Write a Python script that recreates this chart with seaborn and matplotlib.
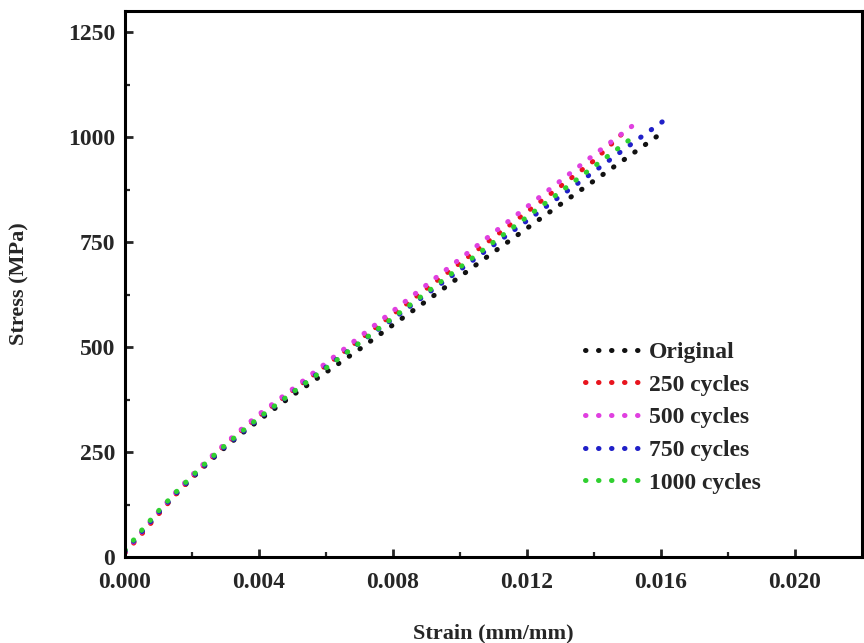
import numpy as np
import pandas as pd
import matplotlib
matplotlib.use("Agg")
import matplotlib.pyplot as plt
import seaborn as sns

# strain / stress curves
strain_original = [0.0, 0.0005, 0.001, 0.0015, 0.002, 0.0025, 0.003, 0.0035, 0.004, 0.005, 0.006,
                   0.007, 0.008, 0.009, 0.010, 0.011, 0.012, 0.013, 0.014, 0.015, 0.0159]
stress_original = [12, 58, 104, 148, 188, 226, 262, 295, 326, 385, 440,
                   495, 553, 610, 668, 726, 783, 840, 896, 952, 1003]

strain_250 = [0.0, 0.0005, 0.001, 0.0015, 0.002, 0.0025, 0.003, 0.0035, 0.004, 0.005, 0.006,
              0.007, 0.008, 0.009, 0.010, 0.011, 0.012, 0.013, 0.014, 0.0150]
stress_250 = [10, 55, 102, 148, 190, 230, 268, 303, 335, 396, 456,
              517, 578, 639, 700, 761, 822, 883, 944, 1020]

strain_500 = [0.0, 0.0005, 0.001, 0.0015, 0.002, 0.0025, 0.003, 0.0035, 0.004, 0.005, 0.006,
              0.007, 0.008, 0.009, 0.010, 0.011, 0.012, 0.013, 0.014, 0.0152]
stress_500 = [12, 60, 108, 153, 195, 234, 271, 306, 340, 400, 462,
              524, 586, 648, 710, 772, 834, 896, 958, 1030]

strain_750 = [0.0, 0.0005, 0.001, 0.0015, 0.002, 0.0025, 0.003, 0.0035, 0.004, 0.005, 0.006,
              0.007, 0.008, 0.009, 0.010, 0.011, 0.012, 0.013, 0.014, 0.015, 0.0161]
stress_750 = [14, 60, 106, 150, 190, 228, 264, 297, 330, 392, 452,
              510, 567, 626, 684, 743, 801, 860, 918, 977, 1040]

strain_1000 = [0.0, 0.0005, 0.001, 0.0015, 0.002, 0.0025, 0.003, 0.0035, 0.004, 0.005, 0.006,
               0.007, 0.008, 0.009, 0.010, 0.011, 0.012, 0.013, 0.014, 0.0152]
stress_1000 = [16, 64, 110, 153, 193, 231, 267, 300, 332, 392, 450,
               510, 570, 630, 690, 750, 810, 870, 930, 1002]

labels = ["Original", "250 cycles", "500 cycles", "750 cycles", "1000 cycles"]
colors = ["#111111", "#e8141e", "#e040e0", "#2020c8", "#30d030"]

sns.set_style("ticks")
plt.rcParams["font.family"] = ["Liberation Serif", "DejaVu Serif"]
plt.rcParams["font.weight"] = "bold"

frames = []
for lab, xs, ys in zip(labels,
                       [strain_original, strain_250, strain_500, strain_750, strain_1000],
                       [stress_original, stress_250, stress_500, stress_750, stress_1000]):
    frames.append(pd.DataFrame({"strain": xs, "stress": ys, "series": lab}))
df = pd.concat(frames, ignore_index=True)

fig = plt.figure(figsize=(8.64, 6.43), dpi=100)
ax = fig.add_axes([0.1447, 0.1337, 0.853, 0.849])

for lab, col in zip(labels, colors):
    sns.lineplot(data=df[df["series"] == lab], x="strain", y="stress", color=col,
                 linewidth=3.6, linestyle=(0, (0.1, 2.5)), dash_capstyle="round",
                 label=lab, ax=ax, sort=False)

ax.set_xlim(0, 0.022)
ax.set_ylim(0, 1300)
ax.set_xticks([0.0, 0.004, 0.008, 0.012, 0.016, 0.020])
ax.set_xticklabels(["0.000", "0.004", "0.008", "0.012", "0.016", "0.020"])
ax.set_yticks([0, 250, 500, 750, 1000, 1250])
ax.set_xticks(np.arange(0.002, 0.022, 0.004), minor=True)
ax.set_yticks(np.arange(125, 1300, 250), minor=True)
ax.tick_params(which="major", direction="in", length=6, width=2, labelsize=17, pad=7)
ax.tick_params(axis="x", which="major", pad=11)
ax.tick_params(which="minor", direction="in", length=3.5, width=1.6)
for s in ax.spines.values():
    s.set_linewidth(2.2)
    s.set_color("black")

ax.set_xlabel("Strain (mm/mm)", fontsize=16, fontweight="bold", labelpad=22)
ax.set_ylabel("Stress (MPa)", fontsize=16, fontweight="bold", labelpad=28)

ax.legend(loc="center left", bbox_to_anchor=(0.5955, 0.2555), frameon=False,
          prop={"size": 17, "weight": "bold"}, handlelength=2.4, handletextpad=0.3,
          labelspacing=0.47)

fig.savefig("out.png", dpi=100)
